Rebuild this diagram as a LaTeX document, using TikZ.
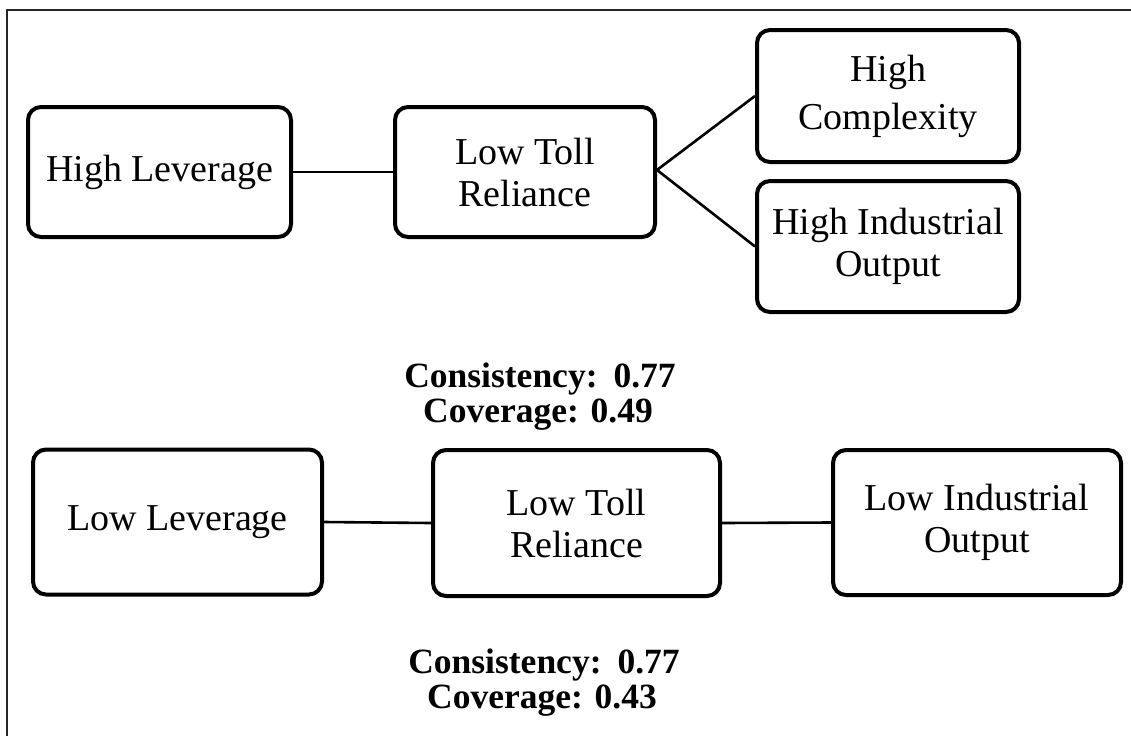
\documentclass[tikz,border=0pt]{standalone}
\usepackage{fontspec}
\setmainfont{Liberation Serif}
\begin{document}
\begin{tikzpicture}[x=1pt,y=-1pt,
  box/.style={draw=black, line width=4pt, rounded corners=13pt, fill=white, align=center, inner sep=0pt,
    font=\fontsize{38}{42}\selectfont},
  link/.style={draw=black, line width=2.6pt},
  stat/.style={anchor=base, inner sep=0pt, font=\bfseries\fontsize{35.5}{36}\selectfont}]
\useasboundingbox (0,0) rectangle (1131,736);
\fill[white] (0,0) rectangle (1131,736);
\draw[line width=1.3pt, black!85] (7,736) -- (7,10) -- (1131,10);
% top row
\node[box, minimum width=263pt, minimum height=130pt] (hl) at (159.5,172) {High Leverage};
\node[box, minimum width=260pt, minimum height=130pt] (ltr) at (525,172) {Low Toll\\Reliance};
\node[box, minimum width=262pt, minimum height=132pt] (hc) at (888,96) {High\\[6pt]Complexity};
\node[box, minimum width=262pt, minimum height=131pt] (hio) at (888,246.5) {High Industrial\\Output};
\coordinate (fork) at (657,170);
\draw[link] (hl.east) -- (ltr.west);
\draw[link] (fork) -- (hc.west);
\draw[link] (fork) -- (hio.west);
\node[stat] (s1a) at (540,387) {Consistency:\hspace{0.45em}0.77};
\node[stat] (s1b) at (538,422) {Coverage: 0.49};
% bottom row
\node[box, minimum width=289pt, minimum height=145pt] (ll) at (177.5,522) {Low Leverage};
\node[box, minimum width=287pt, minimum height=146pt] (ltr2) at (576.5,523) {Low Toll\\Reliance};
\node[box, minimum width=288pt, minimum height=145pt] (lio) at (977,522.5) {Low Industrial\\Output};
\draw[link] (ll.east) -- (ltr2.west);
\draw[link] (ltr2.east) -- (lio.west);
\node[stat] (s2a) at (544,673) {Consistency:\hspace{0.45em}0.77};
\node[stat] (s2b) at (542,708) {Coverage: 0.43};
\end{tikzpicture}
\end{document}
